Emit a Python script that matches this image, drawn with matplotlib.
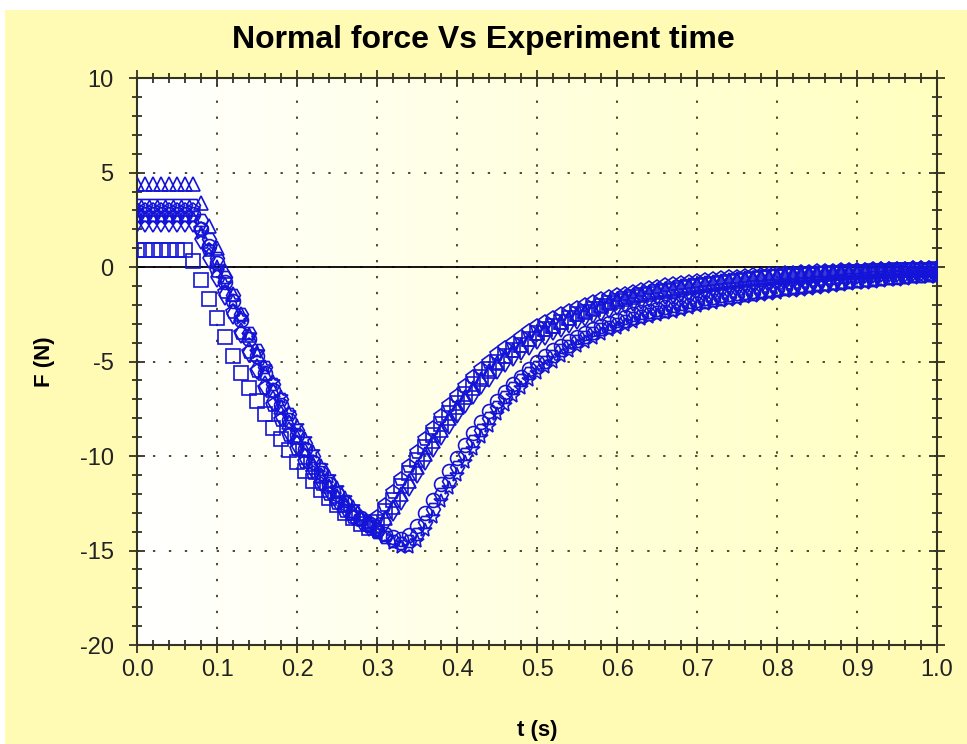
import numpy as np
import matplotlib
matplotlib.use("Agg")
import matplotlib.pyplot as plt
from matplotlib.patches import Rectangle
from matplotlib.ticker import MultipleLocator, FormatStrFormatter

# sampling step of the recorded force signal (s)
DT = 0.01

# force readings (N), one value every 0.01 s starting at t = 0
f_triangle = [4.4, 4.4, 4.4, 4.4, 4.4, 4.4, 4.4, 4.4,
              3.4, 2.2, 1.0, -0.2, -1.4, -2.5, -3.6, -4.6, -5.6, -6.5, -7.4, -8.2,
              -9.0, -9.7, -10.4, -11.0, -11.6, -12.1, -12.6, -13.0, -13.3, -13.6,
              -13.7, -13.3, -12.7, -12.0, -11.3, -10.6, -9.9, -9.2, -8.6, -8.0,
              -7.4, -6.9, -6.4, -5.9, -5.5, -5.1, -4.7, -4.4, -4.1, -3.8,
              -3.5, -3.3, -3.1, -2.9, -2.7, -2.5, -2.3, -2.15, -2.0, -1.85,
              -1.7, -1.6, -1.5, -1.4, -1.3, -1.2, -1.15, -1.1, -1.0, -0.95,
              -0.9, -0.85, -0.8, -0.75, -0.7, -0.65, -0.6, -0.57, -0.54, -0.5,
              -0.47, -0.44, -0.41, -0.38, -0.35, -0.33, -0.3, -0.28, -0.26, -0.24,
              -0.22, -0.2, -0.18, -0.17, -0.15, -0.14, -0.13, -0.12, -0.11, -0.1,
              -0.1]

f_pentagon = [3.0, 3.0, 3.0, 3.0, 3.0, 3.0, 3.0, 3.0,
              2.0, 0.9, -0.2, -1.3, -2.4, -3.5, -4.5, -5.5, -6.4, -7.3, -8.1, -8.9,
              -9.6, -10.3, -10.9, -11.5, -12.0, -12.5, -12.9, -13.2, -13.4, -13.5,
              -13.2, -12.6, -11.9, -11.2, -10.5, -9.8, -9.1, -8.5, -7.9, -7.3,
              -6.8, -6.3, -5.8, -5.4, -5.0, -4.6, -4.3, -4.0, -3.7, -3.4,
              -3.1, -2.9, -2.7, -2.5, -2.3, -2.15, -2.0, -1.85, -1.7, -1.6,
              -1.5, -1.4, -1.3, -1.2, -1.12, -1.04, -0.97, -0.9, -0.84, -0.78,
              -0.72, -0.67, -0.62, -0.58, -0.54, -0.5, -0.46, -0.43, -0.4, -0.37,
              -0.34, -0.31, -0.29, -0.27, -0.25, -0.23, -0.21, -0.19, -0.17, -0.15,
              -0.14, -0.13, -0.12, -0.11, -0.1, -0.09, -0.08, -0.07, -0.06, -0.05,
              -0.05]

f_diamond = [2.4, 2.4, 2.4, 2.4, 2.4, 2.4, 2.4, 2.4,
             1.5, 0.5, -0.5, -1.5, -2.5, -3.5, -4.5, -5.4, -6.3, -7.1, -7.9, -8.7,
             -9.4, -10.1, -10.7, -11.3, -11.8, -12.3, -12.7, -13.1, -13.4, -13.7,
             -13.8, -13.5, -12.9, -12.3, -11.6, -10.9, -10.2, -9.5, -8.9, -8.3,
             -7.7, -7.2, -6.7, -6.2, -5.8, -5.4, -5.0, -4.7, -4.4, -4.1,
             -3.8, -3.6, -3.35, -3.15, -2.95, -2.75, -2.6, -2.45, -2.3, -2.15,
             -2.0, -1.9, -1.8, -1.7, -1.6, -1.5, -1.42, -1.35, -1.28, -1.2,
             -1.13, -1.06, -1.0, -0.95, -0.9, -0.85, -0.8, -0.75, -0.7, -0.66,
             -0.62, -0.58, -0.55, -0.52, -0.49, -0.46, -0.43, -0.4, -0.38, -0.36,
             -0.34, -0.32, -0.3, -0.28, -0.26, -0.25, -0.24, -0.22, -0.21, -0.2,
             -0.2]

f_square = [0.9, 0.9, 0.9, 0.9, 0.9, 0.9, 0.9,
            0.3, -0.7, -1.7, -2.7, -3.7, -4.7, -5.6, -6.4, -7.1, -7.8, -8.5, -9.1, -9.7,
            -10.3, -10.8, -11.3, -11.8, -12.2, -12.6, -13.0, -13.3, -13.6, -13.8,
            -13.5, -12.9, -12.3, -11.6, -10.9, -10.2, -9.5, -8.9, -8.3, -7.7,
            -7.2, -6.7, -6.2, -5.8, -5.4, -5.0, -4.7, -4.4, -4.1, -3.8,
            -3.5, -3.3, -3.1, -2.9, -2.7, -2.5, -2.35, -2.2, -2.05, -1.9,
            -1.8, -1.7, -1.6, -1.5, -1.4, -1.3, -1.25, -1.2, -1.1, -1.05,
            -1.0, -0.95, -0.9, -0.85, -0.8, -0.75, -0.7, -0.65, -0.6, -0.55,
            -0.5, -0.48, -0.45, -0.42, -0.4, -0.38, -0.35, -0.33, -0.3, -0.28,
            -0.25, -0.24, -0.22, -0.2, -0.19, -0.18, -0.16, -0.15, -0.14, -0.13,
            -0.12]

f_hexagon = [3.3, 3.3, 3.3, 3.3, 3.3, 3.3, 3.3, 3.3,
             2.5, 1.5, 0.5, -0.5, -1.5, -2.5, -3.5, -4.4, -5.3, -6.2, -7.0, -7.8,
             -8.6, -9.3, -10.0, -10.7, -11.3, -11.9, -12.4, -12.9, -13.3, -13.7,
             -14.0, -14.3, -14.5, -14.6, -14.5, -14.1, -13.5, -12.8, -12.0, -11.3,
             -10.6, -9.9, -9.2, -8.6, -8.0, -7.4, -6.9, -6.4, -6.0, -5.6,
             -5.3, -5.0, -4.7, -4.4, -4.15, -3.9, -3.7, -3.5, -3.3, -3.15,
             -3.0, -2.85, -2.7, -2.6, -2.5, -2.4, -2.3, -2.2, -2.1, -2.0,
             -1.92, -1.84, -1.76, -1.68, -1.6, -1.53, -1.46, -1.4, -1.34, -1.28,
             -1.22, -1.16, -1.1, -1.05, -1.0, -0.95, -0.9, -0.86, -0.82, -0.78,
             -0.74, -0.7, -0.66, -0.62, -0.58, -0.55, -0.52, -0.49, -0.46, -0.43,
             -0.4]

f_star = [2.6, 2.6, 2.6, 2.6, 2.6, 2.6, 2.6, 2.6,
          1.8, 0.9, 0.0, -0.9, -1.8, -2.7, -3.6, -4.5, -5.3, -6.1, -6.9, -7.7,
          -8.4, -9.1, -9.8, -10.5, -11.1, -11.7, -12.2, -12.7, -13.2, -13.6,
          -14.0, -14.3, -14.6, -14.8, -14.8, -14.5, -13.9, -13.2, -12.4, -11.7,
          -11.0, -10.3, -9.6, -9.0, -8.4, -7.8, -7.3, -6.8, -6.4, -6.0,
          -5.6, -5.3, -5.0, -4.7, -4.45, -4.2, -3.95, -3.75, -3.55, -3.35,
          -3.2, -3.05, -2.9, -2.75, -2.65, -2.55, -2.45, -2.35, -2.25, -2.15,
          -2.05, -1.97, -1.89, -1.81, -1.74, -1.67, -1.6, -1.53, -1.47, -1.41,
          -1.35, -1.29, -1.24, -1.19, -1.14, -1.09, -1.04, -0.99, -0.94, -0.9,
          -0.86, -0.82, -0.78, -0.74, -0.7, -0.66, -0.62, -0.58, -0.55, -0.52,
          -0.5]

f_circle = [2.8, 2.8, 2.8, 2.8, 2.8, 2.8, 2.8, 2.8,
            2.0, 1.1, 0.2, -0.8, -1.8, -2.8, -3.8, -4.7, -5.6, -6.5, -7.3, -8.1,
            -8.9, -9.6, -10.3, -10.9, -11.5, -12.0, -12.5, -12.9, -13.3, -13.6,
            -13.9, -14.1, -14.3, -14.4, -14.2, -13.7, -13.0, -12.3, -11.5, -10.8,
            -10.1, -9.4, -8.8, -8.2, -7.6, -7.1, -6.6, -6.2, -5.8, -5.4,
            -5.0, -4.7, -4.4, -4.15, -3.9, -3.7, -3.5, -3.3, -3.1, -2.95,
            -2.8, -2.65, -2.5, -2.4, -2.3, -2.2, -2.1, -2.0, -1.9, -1.82,
            -1.74, -1.66, -1.58, -1.5, -1.44, -1.38, -1.32, -1.26, -1.2, -1.15,
            -1.1, -1.05, -1.0, -0.95, -0.9, -0.86, -0.82, -0.78, -0.74, -0.7,
            -0.66, -0.62, -0.59, -0.56, -0.53, -0.5, -0.47, -0.44, -0.41, -0.38,
            -0.36]

series = [(f_triangle, "^"), (f_pentagon, "p"), (f_hexagon, "H"),
          (f_circle, "o"), (f_star, "*"), (f_diamond, "d"), (f_square, "s")]

plt.rcParams['font.family'] = ['Liberation Sans', 'DejaVu Sans']
plt.rcParams['axes.unicode_minus'] = False

fig = plt.figure(figsize=(9.67, 7.44), dpi=100, facecolor="#fffab4")
# thin white margin along the top and left edges
fig.patches.append(Rectangle((0, 0.986), 1, 0.014, transform=fig.transFigure,
                             facecolor="white", edgecolor="none", zorder=-5))
fig.patches.append(Rectangle((0, 0), 0.005, 1, transform=fig.transFigure,
                             facecolor="white", edgecolor="none", zorder=-5))

ax = fig.add_axes([0.142, 0.133, 0.827, 0.762])

# white -> pale yellow gradient inside the plot area
grad = np.linspace(0, 1, 256).reshape(1, -1)
cmap = matplotlib.colors.LinearSegmentedColormap.from_list("bg", ["#ffffff", "#ffffc0"])
ax.imshow(grad, extent=[0, 1, 0, 1], transform=ax.transAxes, aspect="auto",
          cmap=cmap, zorder=0)

for vals, mk in series:
    t = np.arange(len(vals)) * DT
    ax.plot(t, vals, linestyle="none", marker=mk, markersize=10,
            markerfacecolor="none", markeredgecolor="#1414d8", markeredgewidth=1.2,
            zorder=3)

ax.axhline(0, color="black", linewidth=1.3, zorder=2)

ax.set_xlim(0, 1.0)
ax.set_ylim(-20, 10)
ax.xaxis.set_major_locator(MultipleLocator(0.1))
ax.xaxis.set_minor_locator(MultipleLocator(0.02))
ax.yaxis.set_major_locator(MultipleLocator(5))
ax.yaxis.set_minor_locator(MultipleLocator(1))
ax.xaxis.set_major_formatter(FormatStrFormatter("%.1f"))

ax.grid(True, which="major", color="#4a4a30", linestyle=(0, (1.2, 7)), linewidth=1.4)
ax.tick_params(which="both", direction="inout", top=True, right=True,
               color="#333322", width=1.3, labelsize=17, labelcolor="#222222")
ax.tick_params(which="major", length=12)
ax.tick_params(which="minor", length=7)
ax.tick_params(axis="y", pad=11)
ax.tick_params(axis="x", pad=4)
for sp in ax.spines.values():
    sp.set_color("#333322")
    sp.set_linewidth(1.5)

fig.text(0.5, 0.946, "Normal force Vs Experiment time", ha="center", va="center",
         fontsize=23, fontweight="bold")
ax.set_xlabel("t (s)", fontsize=16, fontweight="bold", labelpad=28)
ax.set_ylabel("F (N)", fontsize=16, fontweight="bold", labelpad=18)

fig.savefig("out.png", dpi=100)
